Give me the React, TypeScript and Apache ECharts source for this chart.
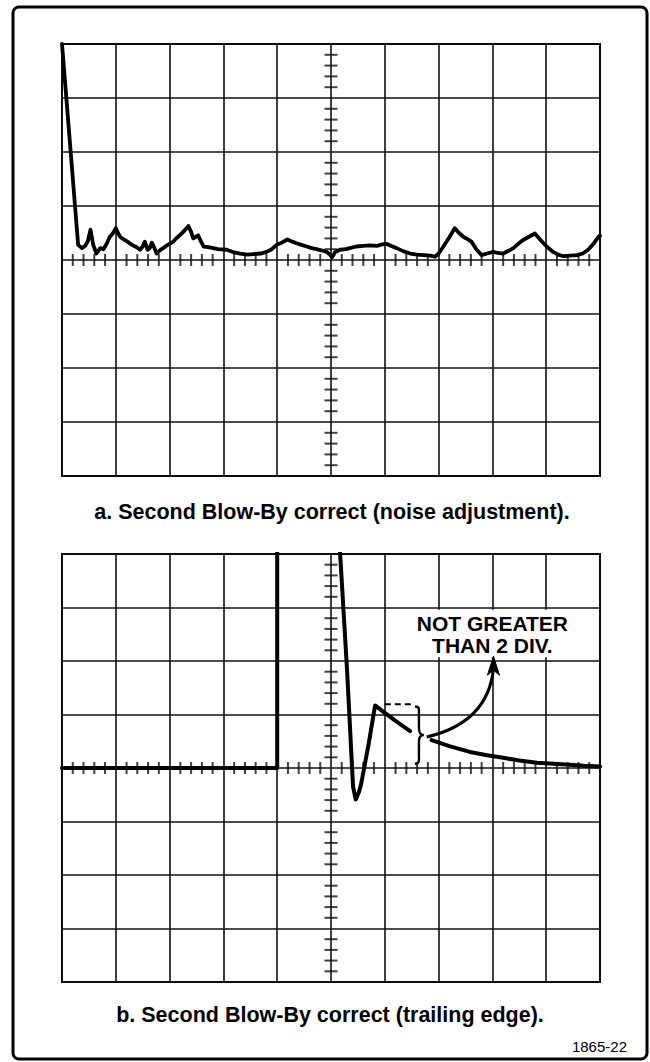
import React, { useEffect, useRef } from "react";
import * as echarts from "echarts";

// Graticule divisions: x 0..10, y -4..4
const xDivs = [0, 10];
const yDivs = [-4, 4];

// Trace a: second blow-by (noise adjustment), [x div, y div]
const traceA: number[][] = [
  [0, 4.0], [0.3, 0.28], [0.37, 0.22], [0.43, 0.26], [0.48, 0.35], [0.53, 0.56], [0.58, 0.28],
  [0.64, 0.12], [0.71, 0.22], [0.77, 0.2], [0.83, 0.3], [0.89, 0.43], [0.95, 0.5], [1.0, 0.59],
  [1.04, 0.5], [1.08, 0.43], [1.12, 0.4], [1.17, 0.37], [1.23, 0.33], [1.3, 0.28], [1.38, 0.24],
  [1.45, 0.19], [1.5, 0.25], [1.54, 0.34], [1.59, 0.19], [1.63, 0.22], [1.67, 0.32], [1.71, 0.24],
  [1.76, 0.12], [1.82, 0.18], [1.88, 0.22], [1.95, 0.27], [2.0, 0.3], [2.07, 0.34], [2.12, 0.4],
  [2.17, 0.44], [2.22, 0.49], [2.28, 0.55], [2.35, 0.63], [2.4, 0.52], [2.44, 0.4], [2.49, 0.43],
  [2.53, 0.46], [2.58, 0.35], [2.63, 0.25], [2.72, 0.24], [2.81, 0.22], [2.9, 0.2], [3.06, 0.19],
  [3.2, 0.14], [3.31, 0.12], [3.45, 0.1], [3.56, 0.11], [3.7, 0.12], [3.8, 0.15], [3.9, 0.2],
  [3.99, 0.28], [4.1, 0.33], [4.19, 0.38], [4.28, 0.34], [4.36, 0.31], [4.45, 0.28], [4.55, 0.25],
  [4.64, 0.22], [4.73, 0.2], [4.82, 0.18], [4.92, 0.15], [4.98, 0.1], [5.02, 0.05], [5.08, 0.15],
  [5.17, 0.19], [5.27, 0.2], [5.35, 0.22], [5.47, 0.25], [5.6, 0.26], [5.72, 0.27], [5.85, 0.26],
  [5.95, 0.29], [6.03, 0.3], [6.12, 0.26], [6.22, 0.22], [6.35, 0.16], [6.47, 0.12], [6.6, 0.1],
  [6.72, 0.09], [6.85, 0.08], [6.93, 0.06], [7.0, 0.12], [7.09, 0.25], [7.2, 0.42], [7.3, 0.59],
  [7.38, 0.5], [7.46, 0.43], [7.53, 0.39], [7.61, 0.34], [7.7, 0.2], [7.8, 0.09], [7.9, 0.12],
  [8.02, 0.15], [8.1, 0.13], [8.2, 0.12], [8.3, 0.17], [8.39, 0.22], [8.48, 0.3], [8.57, 0.37],
  [8.68, 0.43], [8.79, 0.49], [8.87, 0.4], [8.95, 0.31], [9.04, 0.22], [9.13, 0.15], [9.22, 0.1],
  [9.32, 0.07], [9.45, 0.08], [9.57, 0.09], [9.68, 0.12], [9.78, 0.19], [9.88, 0.3], [9.97, 0.43],
  [10, 0.45],
];

// Trace b: trailing edge, split where the bracket interrupts it
const traceB1: number[][] = [
  [0, 0], [4.0, 0], [4.0, 4.6], [5.12, 4.6], [5.17, 4.0], [5.3, 1.8], [5.41, -0.35],
  [5.46, -0.59], [5.52, -0.45], [5.56, -0.3], [5.7, 0.45], [5.82, 1.17], [6.0, 1.03],
  [6.2, 0.88], [6.47, 0.69],
];
const traceB2: number[][] = [
  [6.87, 0.52], [7.2, 0.41], [7.58, 0.3], [7.9, 0.24], [8.2, 0.19], [8.5, 0.14], [8.83, 0.1],
  [9.14, 0.08], [9.44, 0.06], [9.7, 0.04], [10, 0.03],
];

const captionA = "a. Second Blow-By correct (noise adjustment).";
const captionB = "b. Second Blow-By correct (trailing edge).";
const noteLines = ["NOT GREATER", "THAN 2 DIV."];
const figureId = "1865-22";

const MINOR = 5;

function minorTicks(axis: "x" | "y"): number[][] {
  const out: number[][] = [];
  const [lo, hi] = axis === "x" ? xDivs : yDivs;
  for (let i = lo * MINOR; i <= hi * MINOR; i++) {
    if (i % MINOR === 0) continue;
    const v = i / MINOR;
    out.push(axis === "x" ? [v, 0] : [(xDivs[0] + xDivs[1]) / 2, v]);
  }
  return out;
}

const BRACE = "M0 0 C5 0 4 3 4 9 L4 21 C4 26 5 28.5 9 28.5 C5 28.5 4 31 4 36 L4 48 C4 54 5 57 0 57";
let braceRegistered = false;

export default function App() {
  const ref = useRef<HTMLDivElement>(null);
  useEffect(() => {
    if (!ref.current) return;
    if (!braceRegistered) {
      echarts.graphic.registerShape("brace", echarts.graphic.extendPath(BRACE, {}) as any);
      braceRegistered = true;
    }
    const chart = echarts.init(ref.current, undefined, { renderer: "svg" });
    const axisCommon = {
      type: "value" as const,
      axisLine: { show: false },
      axisTick: { show: false },
      axisLabel: { show: false },
      splitLine: { show: true, lineStyle: { color: "#111", width: 1.6 } },
    };
    const grids = [
      { left: 62, top: 44, width: 538, height: 432 },
      { left: 62, top: 554, width: 538, height: 428 },
    ];
    const tickSeries = (gi: number) => [
      {
        type: "scatter", xAxisIndex: gi, yAxisIndex: gi, silent: true, z: 1,
        symbol: "rect", symbolSize: [2, 12], itemStyle: { color: "#111" },
        data: minorTicks("x"),
      },
      {
        type: "scatter", xAxisIndex: gi, yAxisIndex: gi, silent: true, z: 1,
        symbol: "rect", symbolSize: [13, 2], itemStyle: { color: "#111" },
        data: minorTicks("y"),
      },
    ];
    const lineSeries = (gi: number, data: number[][], w: number) => ({
      type: "line", xAxisIndex: gi, yAxisIndex: gi, data, showSymbol: false, clip: true,
      silent: true, z: 3, lineStyle: { color: "#000", width: w, join: "round", cap: "round" },
    });
    chart.setOption({
      animation: false,
      backgroundColor: "#fff",
      grid: grids.map((g) => ({ ...g, show: true, borderColor: "#000", borderWidth: 2, backgroundColor: "transparent" })),
      xAxis: [0, 1].map((gi) => ({ ...axisCommon, gridIndex: gi, min: xDivs[0], max: xDivs[1], interval: 1 })),
      yAxis: [0, 1].map((gi) => ({ ...axisCommon, gridIndex: gi, min: yDivs[0], max: yDivs[1], interval: 1 })),
      series: [
        ...tickSeries(0),
        ...tickSeries(1),
        lineSeries(0, traceA, 3.8),
        lineSeries(1, traceB1, 4),
        lineSeries(1, traceB2, 4),
      ],
    });

    const p = (x: number, y: number) => chart.convertToPixel({ gridIndex: 1 } as any, [x, y]) as number[];
    const dashA = p(6.0, 1.19);
    const dashB = p(6.5, 1.19);
    const braceTop = p(6.56, 1.15);
    const braceBot = p(6.56, 0.08);
    const arrS = p(6.78, 0.58);
    const arrC = p(7.92, 0.85);
    const arrE = p(8.02, 1.86);
    const tip = p(8.02, 2.09);
    const boxTL = p(6.38, 2.96);
    const boxBR = p(9.59, 2.07);
    const tc = p(8.0, 2.5);
    const textStyle = { fontFamily: "Liberation Sans, Arial, sans-serif", fontWeight: "bold", fill: "#000" };

    chart.setOption({
      graphic: [
        {
          type: "rect", shape: { x: 13, y: 7, width: 634, height: 1052, r: 6 }, silent: true,
          style: { fill: "none", stroke: "#000", lineWidth: 3 }, z: 10,
        },
        {
          type: "rect", shape: { x: boxTL[0], y: boxTL[1], width: boxBR[0] - boxTL[0], height: boxBR[1] - boxTL[1] },
          style: { fill: "#fff" }, z: 10,
        },
        {
          type: "text", x: tc[0], y: tc[1], z: 11,
          style: {
            ...textStyle, text: noteLines.join("\n"), fontSize: 21, lineHeight: 22,
            align: "center", verticalAlign: "middle",
          },
        },
        {
          type: "line", shape: { x1: dashA[0], y1: dashA[1], x2: dashB[0], y2: dashB[1] }, z: 11,
          style: { stroke: "#000", lineWidth: 2, lineDash: [6, 4] },
        },
        {
          type: "brace", x: braceTop[0], y: braceTop[1], scaleX: 1, scaleY: (braceBot[1] - braceTop[1]) / 57, z: 11,
          style: { stroke: "#000", lineWidth: 2.4, fill: "none" },
        },
        {
          type: "bezierCurve", z: 11,
          shape: { x1: arrS[0], y1: arrS[1], cpx1: arrC[0], cpy1: arrC[1], x2: arrE[0], y2: arrE[1] },
          style: { stroke: "#000", lineWidth: 3, fill: "none" },
        },
        {
          type: "polygon", z: 11,
          shape: { points: [[tip[0], tip[1]], [tip[0] - 6, tip[1] + 19], [tip[0], tip[1] + 14], [tip[0] + 6, tip[1] + 19]] },
          style: { fill: "#000", stroke: "#000", lineWidth: 1 },
        },
        {
          type: "text", x: 332, y: 512, z: 11,
          style: { ...textStyle, text: captionA, fontSize: 21.5, align: "center", verticalAlign: "middle" },
        },
        {
          type: "text", x: 330, y: 1015, z: 11,
          style: { ...textStyle, text: captionB, fontSize: 21.5, align: "center", verticalAlign: "middle" },
        },
        {
          type: "text", x: 627, y: 1046, z: 11,
          style: { fontFamily: "Liberation Sans, Arial, sans-serif", fill: "#000", text: figureId, fontSize: 15, align: "right", verticalAlign: "middle" },
        },
      ],
    });
    return () => chart.dispose();
  }, []);
  return (
    <div
      ref={ref}
      style={{ position: "absolute", left: 0, top: 0, width: 650, height: 1062, background: "#fff" }}
    />
  );
}
